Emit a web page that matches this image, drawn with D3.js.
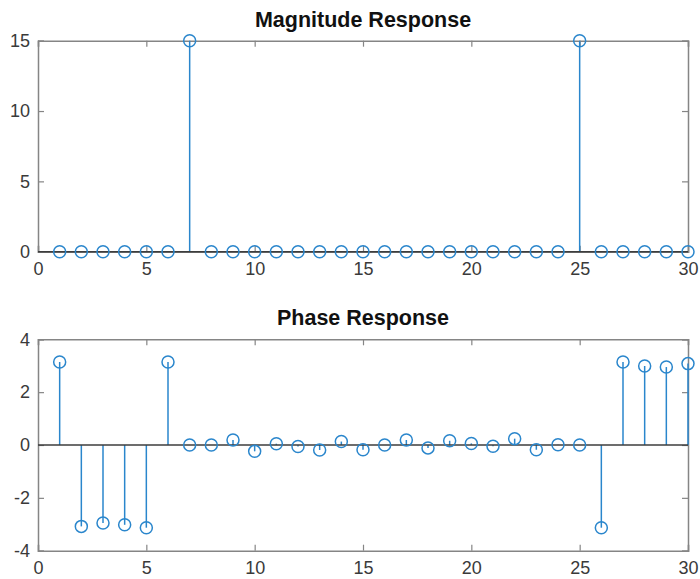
<!DOCTYPE html>
<html>
<head>
<meta charset="utf-8">
<script src="https://cdn.jsdelivr.net/npm/d3@7"></script>
<style>
	body { margin: 0; background: #fff; }
	#chart-area { width: 700px; height: 579px; }
	text { font-family: Arial, "Liberation Sans", sans-serif; }
</style>
</head>
<body>
<div id="chart-area"></div>
<script>
// sample index k = 1..30
const samples = d3.range(1, 31);
const magnitude = [0, 0, 0, 0, 0, 0, 15, 0, 0, 0, 0, 0, 0, 0, 0, 0, 0, 0, 0, 0, 0, 0, 0, 0, 15, 0, 0, 0, 0, 0];
const phase = [3.14, -3.08, -2.95, -3.02, -3.13, 3.14, 0, 0, 0.19, -0.24, 0.05, -0.06, -0.19, 0.13, -0.18,
	0, 0.19, -0.11, 0.16, 0.06, -0.05, 0.24, -0.18, 0.01, 0, -3.13, 3.14, 2.99, 2.95, 3.08];
const xTicks = [0, 5, 10, 15, 20, 25, 30];
const magTicks = [0, 5, 10, 15];
const phaseTicks = [-4, -2, 0, 2, 4];

window.addEventListener('DOMContentLoaded', () => {

	const svg = d3.select('#chart-area')
		.append('svg')
		.attr('width', 700)
		.attr('height', 579);

	const left = 38, right = 688;
	const stemColor = '#2a86cc';
	const axisColor = '#858585';
	const plain = (d) => String(d); // plain hyphen for negatives, as MATLAB prints

	function stemPlot(opts) {
		const x = d3.scaleLinear().domain([0, 30]).range([left, right]);
		const y = d3.scaleLinear().domain(opts.yDomain).range([opts.bottom, opts.top]);

		const g = svg.append('g');

		// title
		g.append('text')
			.attr('x', (left + right) / 2)
			.attr('y', opts.top - 14)
			.attr('text-anchor', 'middle')
			.attr('font-size', 21.5)
			.attr('font-weight', 'bold')
			.attr('fill', '#111')
			.text(opts.title);

		// axes, MATLAB style: ticks inside, box all round
		const tickLen = 6;
		const bottomAxis = d3.axisBottom(x).tickValues(xTicks).tickSize(-tickLen).tickPadding(11).tickFormat(plain);
		const topAxis = d3.axisTop(x).tickValues(xTicks).tickSize(-tickLen).tickFormat('');
		const leftAxis = d3.axisLeft(y).tickValues(opts.yTicks).tickSize(-tickLen).tickPadding(8).tickFormat(plain);
		const rightAxis = d3.axisRight(y).tickValues(opts.yTicks).tickSize(-tickLen).tickFormat('');

		const axes = [
			[bottomAxis, `translate(0, ${opts.bottom})`],
			[topAxis, `translate(0, ${opts.top})`],
			[leftAxis, `translate(${left}, 0)`],
			[rightAxis, `translate(${right}, 0)`]
		];
		axes.forEach(([ax, tr]) => {
			const a = g.append('g')
				.attr('transform', tr)
				.call(ax);
			a.select('.domain').attr('stroke', axisColor).attr('stroke-width', 1.5);
			a.selectAll('.tick line').attr('stroke', axisColor).attr('stroke-width', 1.2);
			a.selectAll('.tick text')
				.attr('font-size', 18)
				.attr('fill', '#3a3a3a')
				.attr('font-family', 'Arial, "Liberation Sans", sans-serif');
		});

		// stems
		g.selectAll('.stem')
			.data(opts.values)
			.enter()
			.append('line')
			.attr('class', 'stem')
			.attr('x1', (d, i) => x(samples[i]))
			.attr('x2', (d, i) => x(samples[i]))
			.attr('y1', y(0))
			.attr('y2', (d) => y(d))
			.attr('stroke', stemColor)
			.attr('stroke-width', 1.5);

		// baseline
		g.append('line')
			.attr('x1', x(0))
			.attr('x2', x(30))
			.attr('y1', y(0))
			.attr('y2', y(0))
			.attr('stroke', '#3d3d3d')
			.attr('stroke-width', 1.5);

		// markers
		g.selectAll('.marker')
			.data(opts.values)
			.enter()
			.append('circle')
			.attr('class', 'marker')
			.attr('cx', (d, i) => x(samples[i]))
			.attr('cy', (d) => y(d))
			.attr('r', 6)
			.attr('fill', 'none')
			.attr('stroke', stemColor)
			.attr('stroke-width', 1.5);
	}

	stemPlot({
		title: 'Magnitude Response',
		values: magnitude,
		yDomain: [0, 15],
		yTicks: magTicks,
		top: 40.7,
		bottom: 251.7
	});

	stemPlot({
		title: 'Phase Response',
		values: phase,
		yDomain: [-4, 4],
		yTicks: phaseTicks,
		top: 339.3,
		bottom: 550.7
	});

});
</script>
</body>
</html>
